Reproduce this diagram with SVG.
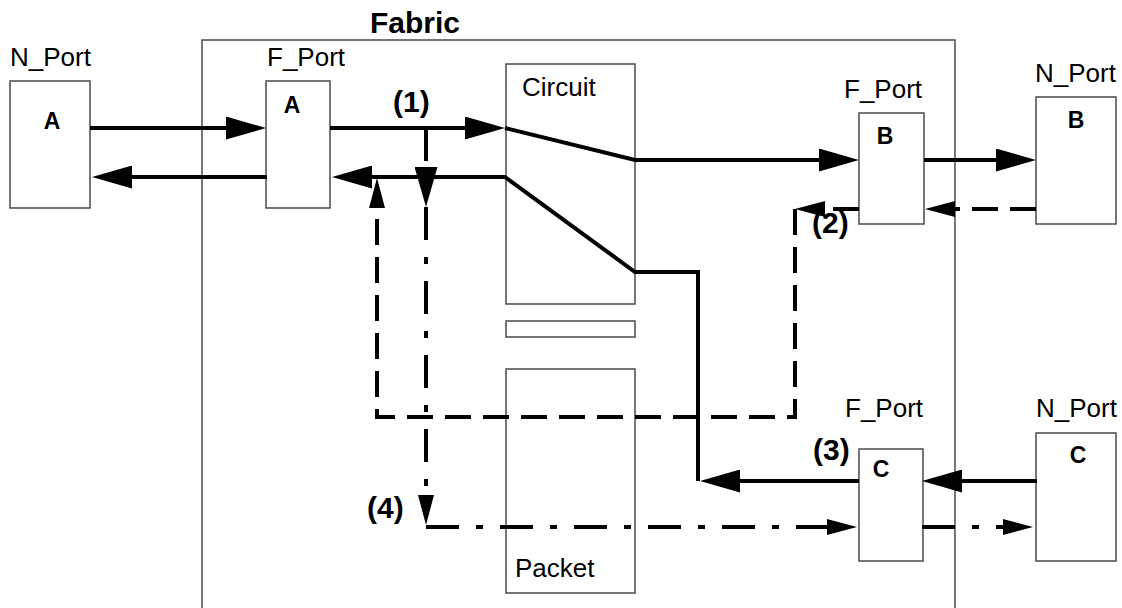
<svg xmlns="http://www.w3.org/2000/svg" width="1122" height="608" viewBox="0 0 1122 608">
<style>
.box{fill:none;stroke:#4a4a4a;stroke-width:1.5}
.lbl{font-family:"Liberation Sans",Arial,sans-serif;font-size:26px;fill:#000}
.b{font-family:"Liberation Sans",Arial,sans-serif;font-weight:bold;font-size:23px;fill:#000;text-anchor:middle}
.num{font-family:"Liberation Sans",Arial,sans-serif;font-weight:bold;font-size:30px;fill:#000}
.ln{fill:none;stroke:#000;stroke-width:4}
.dash{stroke-dasharray:26 12}
.dd{stroke-dasharray:33 17 7 17}
</style>
<defs>
<marker id="big" markerUnits="userSpaceOnUse" markerWidth="40" markerHeight="23" refX="30" refY="11.5" orient="auto"><path d="M0,0 L40,11.5 L0,23 z" fill="#000"/></marker>
<marker id="sm" markerUnits="userSpaceOnUse" markerWidth="30" markerHeight="16" refX="22" refY="8" orient="auto"><path d="M0,0 L30,8 L0,16 z" fill="#000"/></marker>
</defs>
<g id="fabric">
<path class="box" d="M202,608 V40 H955 V608"/>
<text x="370" y="33" style="font-family:'Liberation Sans',Arial,sans-serif;font-weight:bold;font-size:30px">Fabric</text>
</g>
<g id="circuit"><rect class="box" x="506" y="64" width="129" height="240"/><text class="lbl" x="522" y="96">Circuit</text></g>
<g id="bar"><rect class="box" x="506" y="321" width="129" height="16"/></g>
<g id="packet"><rect class="box" x="506" y="369" width="129" height="224"/><text class="lbl" x="515" y="577">Packet</text></g>
<g id="nportA"><text class="lbl" x="10" y="66">N_Port</text><rect class="box" x="10" y="81" width="80" height="127"/><text class="b" x="52" y="129">A</text></g>
<g id="fportA"><text class="lbl" x="267" y="66">F_Port</text><rect class="box" x="266" y="81" width="64" height="127"/><text class="b" x="292" y="113">A</text></g>
<g id="fportB"><text class="lbl" x="844" y="98">F_Port</text><rect class="box" x="859" y="113" width="65" height="111"/><text class="b" x="885" y="144">B</text></g>
<g id="nportB"><text class="lbl" x="1035" y="82">N_Port</text><rect class="box" x="1036" y="97" width="80" height="127"/><text class="b" x="1076" y="128">B</text></g>
<g id="fportC"><text class="lbl" x="845" y="417">F_Port</text><rect class="box" x="859" y="449" width="64" height="112"/><text class="b" x="881" y="477">C</text></g>
<g id="nportC"><text class="lbl" x="1036" y="417">N_Port</text><rect class="box" x="1036" y="433" width="80" height="128"/><text class="b" x="1078" y="463">C</text></g>
<g id="labels">
<text class="num" x="393" y="112">(1)</text>
<text class="num" x="812" y="233">(2)</text>
<text class="num" x="813" y="460">(3)</text>
<text class="num" x="367" y="518">(4)</text>
</g>
<g id="connectors">
<path class="ln" d="M90,128 H256" marker-end="url(#big)"/>
<path class="ln" d="M267,177 H102" marker-end="url(#big)"/>
<path class="ln" d="M330,128 H495" marker-end="url(#big)"/>
<path class="ln" d="M505,128 L635,160 H849" marker-end="url(#big)"/>
<path class="ln" d="M924,160 H1026" marker-end="url(#big)"/>
<path class="ln" d="M859,481 H710" marker-end="url(#big)"/>
<path class="ln" d="M698,481 V272 H635 L505,177 H342" marker-end="url(#big)"/>
<path class="ln" d="M1037,481 H932" marker-end="url(#big)"/>
<path class="ln dash" d="M1036,209 H933" marker-end="url(#sm)"/>
<path class="ln dash" d="M859,209 H803" marker-end="url(#sm)"/>
<path class="ln dash" d="M795,209 V417 H377 V186" marker-end="url(#sm)"/>
<path class="ln dd" d="M426,128 V197" marker-end="url(#big)"/>
<path class="ln dd" d="M426,207 V517" marker-end="url(#sm)"/>
<path class="ln dd" d="M426,527 H849" marker-end="url(#sm)"/>
<path class="ln dd" d="M922,527 H1025" marker-end="url(#sm)"/>
</g>
</svg>
